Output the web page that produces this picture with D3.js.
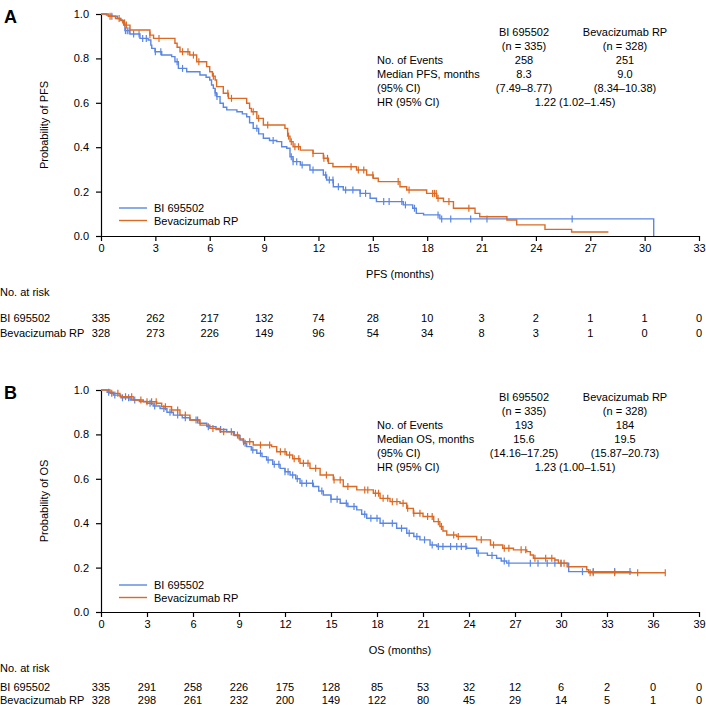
<!DOCTYPE html>
<html><head><meta charset="utf-8">
<script src="https://cdn.jsdelivr.net/npm/d3@7"></script>
<style>
body{margin:0;background:#fff;}
svg{display:block;font-family:"Liberation Sans",Arial,Helvetica,sans-serif;}
</style></head>
<body>
<svg id="c" width="706" height="706"></svg>
<script>
// ---------- DATA ----------
const seriesNames = ["BI 695502", "Bevacizumab RP"];
const colors = ["#5b87e3", "#dc6a24"];

// Panel A (PFS): steps [time, survival]
const pfsBI = [[0,1.0],[0.3,0.995],[0.6,0.99],[0.9,0.98],[1.1,0.97],[1.25,0.95],[1.32,0.925],[1.6,0.91],[2.15,0.89],[2.6,0.883],[2.75,0.86],[2.8,0.845],[2.98,0.83],[3.35,0.815],[3.9,0.808],[4.08,0.785],[4.27,0.755],[4.73,0.74],[5.46,0.725],[5.8,0.715],[6.0,0.703],[6.1,0.68],[6.2,0.665],[6.3,0.645],[6.38,0.628],[6.57,0.598],[6.75,0.58],[6.94,0.568],[7.5,0.56],[7.8,0.55],[8.04,0.537],[8.2,0.51],[8.4,0.485],[8.7,0.46],[8.96,0.44],[9.3,0.43],[9.7,0.425],[9.97,0.402],[10.25,0.395],[10.43,0.357],[10.6,0.335],[11.0,0.32],[11.53,0.297],[12.27,0.275],[12.45,0.252],[12.82,0.222],[13.37,0.207],[14.3,0.192],[14.85,0.17],[15.2,0.155],[16.68,0.14],[17.2,0.125],[17.4,0.102],[17.8,0.095],[18.7,0.077],[30.5,0]];
const pfsBev = [[0,1.0],[0.4,0.99],[0.8,0.98],[1.05,0.973],[1.2,0.96],[1.32,0.95],[1.6,0.928],[2.7,0.905],[2.9,0.89],[4.08,0.868],[4.2,0.85],[4.36,0.83],[4.9,0.815],[5.28,0.785],[5.83,0.763],[6.0,0.74],[6.15,0.72],[6.3,0.703],[6.38,0.673],[6.75,0.643],[7.03,0.62],[8.04,0.598],[8.2,0.575],[8.3,0.56],[8.6,0.53],[8.96,0.5],[10.15,0.485],[10.3,0.45],[10.43,0.425],[10.6,0.402],[11.0,0.387],[11.7,0.372],[12.27,0.35],[12.55,0.327],[12.8,0.312],[14.1,0.297],[14.66,0.275],[15.03,0.26],[15.3,0.245],[16.5,0.222],[16.87,0.207],[17.97,0.192],[18.53,0.17],[18.9,0.155],[19.45,0.125],[20.64,0.102],[20.9,0.087],[22.4,0.072],[22.94,0.05],[24.5,0.03],[25.97,0.018],[28.0,0.018]];
const pfsBICens = [0.6,1.35,1.45,1.55,1.8,2.1,2.3,2.5,3.0,3.3,4.2,4.5,6.3,6.4,8.6,9.5,10.5,10.6,10.8,11.1,11.7,12.4,12.6,12.8,13.1,13.5,13.9,14.3,14.6,15.6,15.9,16.6,16.8,17.3,18.6,18.8,19.3,20.4,21.3,26.0];
const pfsBevCens = [0.5,1.0,1.3,1.4,2.7,3.2,4.5,4.8,5.1,5.4,6.2,7.0,7.2,8.4,8.7,9.2,10.35,10.5,10.7,10.9,11.7,12.3,12.5,13.8,14.2,14.5,15.0,16.4,17.0,18.3,18.4,18.5,18.6,19.2,20.3];
const pfsTicks = [0,3,6,9,12,15,18,21,24,27,30,33];
const pfsRiskBI = [335,262,217,132,74,28,10,3,2,1,1,0];
const pfsRiskBev = [328,273,226,149,96,54,34,8,3,1,0,0];
const pfsStats = [["No. of Events","258","251"],["Median PFS, months","8.3","9.0"],["(95% CI)","(7.49\u20138.77)","(8.34\u201310.38)"]];
const pfsHR = "1.22 (1.02\u20131.45)";

// Panel B (OS)
const osBI = [[0,1],[0.4,0.99],[0.8,0.977],[1.3,0.965],[1.9,0.955],[2.5,0.948],[2.98,0.94],[3.4,0.928],[3.85,0.917],[4.3,0.9],[4.72,0.887],[5.3,0.875],[5.8,0.865],[6.4,0.85],[6.9,0.835],[7.5,0.822],[8.2,0.812],[8.7,0.795],[9.07,0.775],[9.3,0.76],[9.5,0.745],[9.8,0.73],[10.16,0.715],[10.5,0.7],[10.8,0.685],[11.2,0.665],[11.68,0.647],[12.0,0.632],[12.33,0.617],[12.7,0.6],[12.98,0.58],[13.85,0.565],[14.2,0.545],[14.5,0.527],[15.0,0.508],[15.6,0.49],[16.1,0.475],[16.68,0.46],[17.0,0.44],[17.33,0.422],[18.2,0.4],[19.28,0.377],[19.94,0.355],[20.4,0.34],[20.8,0.325],[21.46,0.302],[21.9,0.295],[23.85,0.287],[24.5,0.265],[25.2,0.255],[25.8,0.242],[26.1,0.23],[26.46,0.22],[30.5,0.182],[34.6,0.182]];
const osBev = [[0,1],[0.59,0.985],[1.24,0.97],[2.1,0.955],[2.76,0.947],[3.63,0.94],[3.96,0.925],[4.6,0.91],[5.15,0.887],[5.8,0.865],[6.46,0.842],[7.1,0.827],[7.76,0.812],[8.63,0.797],[9.0,0.78],[9.28,0.767],[9.93,0.752],[11.13,0.745],[11.46,0.722],[12.1,0.707],[12.5,0.69],[12.98,0.67],[13.63,0.647],[14.29,0.617],[15.15,0.595],[15.8,0.565],[16.68,0.55],[17.76,0.535],[18.2,0.512],[18.85,0.497],[19.5,0.49],[19.94,0.467],[20.37,0.445],[21.0,0.43],[21.7,0.407],[22.1,0.385],[22.3,0.365],[22.55,0.347],[23.2,0.34],[24.5,0.325],[25.4,0.302],[26.2,0.287],[26.9,0.28],[27.77,0.272],[28.0,0.257],[28.2,0.242],[29.6,0.234],[29.83,0.22],[30.4,0.204],[31.68,0.19],[31.8,0.177],[36.8,0.177]];
const osBICens = [0.5,0.9,1.4,1.8,2.2,3.2,3.5,4.1,4.5,5.0,5.5,6.2,7.0,7.8,8.5,9.4,9.9,10.4,10.9,11.3,11.6,12.0,12.2,12.5,12.8,13.1,13.4,13.8,14.4,15.0,15.4,16.0,16.5,17.2,17.6,18.0,18.4,19.0,19.6,20.1,20.6,21.1,21.6,22.0,22.3,22.8,23.2,23.5,23.8,24.6,25.5,26.3,26.6,28.0,28.5,29.1,29.6,30.0,31.4,32.1,33.5,34.5];
const osBevCens = [0.7,1.1,1.6,2.0,2.6,3.0,3.3,3.6,4.2,4.6,5.0,5.5,6.3,7.3,8.0,8.9,9.3,9.7,10.4,11.0,11.7,12.0,12.3,12.6,12.9,13.2,13.5,14.0,14.7,15.2,15.6,16.1,17.2,17.4,17.9,18.1,18.4,18.7,19.0,19.3,19.7,20.0,20.4,20.8,21.3,21.6,22.0,22.2,23.0,23.3,24.8,25.6,26.3,26.6,27.4,27.7,28.3,29.0,29.4,30.0,30.2,31.9,32.1,33.5,35.0,36.8];
const osTicks = [0,3,6,9,12,15,18,21,24,27,30,33,36,39];
const osRiskBI = [335,291,258,226,175,128,85,53,32,12,6,2,0,0];
const osRiskBev = [328,298,261,232,200,149,122,80,45,29,14,5,1,0];
const osStats = [["No. of Events","193","184"],["Median OS, months","15.6","19.5"],["(95% CI)","(14.16\u201317.25)","(15.87\u201320.73)"]];
const osHR = "1.23 (1.00\u20131.51)";

const yTicks = [0,0.2,0.4,0.6,0.8,1.0];

// ---------- DRAW ----------
const svg = d3.select("#c");
svg.append("rect").attr("width",706).attr("height",706).attr("fill","#fff");

function survAt(steps, t){
  let s = steps[0][1];
  for (const p of steps){ if (p[0] <= t) s = p[1]; else break; }
  return s;
}

function panel(o){
  const g = svg.append("g");
  const x = d3.scaleLinear().domain([0, o.xmax]).range([101, 699]);
  const y = d3.scaleLinear().domain([0, 1]).range([o.y0, o.y1]);

  g.append("text").attr("x",4).attr("y",o.y1+9).attr("font-size",18).attr("font-weight","bold").text(o.letter);

  const ax = g.append("g").attr("transform",`translate(0,${o.y0})`)
    .call(d3.axisBottom(x).tickValues(o.ticks).tickFormat(d3.format("d")).tickSize(5).tickSizeOuter(0).tickPadding(3));
  const ay = g.append("g").attr("transform","translate(101,0)")
    .call(d3.axisLeft(y).tickValues(yTicks).tickFormat(d3.format(".1f")).tickSize(5).tickSizeOuter(0).tickPadding(7));
  [ax, ay].forEach(a => {
    a.selectAll("path,line").attr("stroke","#000").attr("stroke-width",1.2);
    a.selectAll("text").attr("font-size",11).attr("fill","#000").attr("font-family","Liberation Sans, Arial, sans-serif");
  });

  g.append("text").attr("transform",`translate(48,${(o.y0+o.y1)/2}) rotate(-90)`)
    .attr("text-anchor","middle").attr("font-size",11).text(o.ytitle);
  g.append("text").attr("x",400).attr("y",o.xtitleY).attr("text-anchor","middle").attr("font-size",11).text(o.xtitle);

  const line = d3.line().x(d=>x(d[0])).y(d=>y(d[1])).curve(d3.curveStepAfter);
  const curves = [[o.bi,o.biC],[o.bev,o.bevC]];
  curves.forEach((c,i)=>{
    g.append("path").datum(c[0]).attr("d",line).attr("fill","none")
      .attr("stroke",colors[i]).attr("stroke-width",1.4);
    g.append("g").selectAll("line").data(c[1]).join("line")
      .attr("x1",d=>x(d)).attr("x2",d=>x(d))
      .attr("y1",d=>y(survAt(c[0],d))-3.5).attr("y2",d=>y(survAt(c[0],d))+3.5)
      .attr("stroke",colors[i]).attr("stroke-width",1.2);
  });

  seriesNames.forEach((n,i)=>{
    const ly = o.legY + i*12.5;
    g.append("line").attr("x1",119).attr("x2",147).attr("y1",ly).attr("y2",ly)
      .attr("stroke",colors[i]).attr("stroke-width",1.4);
    g.append("text").attr("x",154).attr("y",ly+4).attr("font-size",11).text(n);
  });

  const st = o.statY;
  const tt = g.append("g").attr("font-size",11);
  tt.append("text").attr("x",524).attr("y",st).attr("text-anchor","middle").text(seriesNames[0]);
  tt.append("text").attr("x",625).attr("y",st).attr("text-anchor","middle").text(seriesNames[1]);
  tt.append("text").attr("x",524).attr("y",st+14).attr("text-anchor","middle").text("(n = 335)");
  tt.append("text").attr("x",625).attr("y",st+14).attr("text-anchor","middle").text("(n = 328)");
  o.stats.forEach((r,i)=>{
    const yy = st + 28 + i*14;
    tt.append("text").attr("x",377).attr("y",yy).text(r[0]);
    tt.append("text").attr("x",524).attr("y",yy).attr("text-anchor","middle").text(r[1]);
    tt.append("text").attr("x",625).attr("y",yy).attr("text-anchor","middle").text(r[2]);
  });
  tt.append("text").attr("x",377).attr("y",st+70).text("HR (95% CI)");
  tt.append("text").attr("x",575).attr("y",st+70).attr("text-anchor","middle").text(o.hr);

  const rt = g.append("g").attr("font-size",11);
  rt.append("text").attr("x",0).attr("y",o.riskY).text("No. at risk");
  [[o.rBI,0],[o.rBev,1]].forEach(([vals,i])=>{
    const yy = o.rowY + i*o.rowGap;
    rt.append("text").attr("x",0).attr("y",yy).text(seriesNames[i]);
    rt.selectAll(null).data(vals).join("text")
      .attr("x",(d,j)=>x(o.ticks[j])).attr("y",yy).attr("text-anchor","middle").text(d=>d);
  });
}

panel({letter:"A", xmax:33, y0:236, y1:14, ticks:pfsTicks, ytitle:"Probability of PFS", xtitle:"PFS (months)",
  xtitleY:278, bi:pfsBI, bev:pfsBev, biC:pfsBICens, bevC:pfsBevCens, legY:208, statY:36,
  stats:pfsStats, hr:pfsHR, riskY:296, rowY:322, rowGap:14.5, rBI:pfsRiskBI, rBev:pfsRiskBev});
panel({letter:"B", xmax:39, y0:612, y1:390, ticks:osTicks, ytitle:"Probability of OS", xtitle:"OS (months)",
  xtitleY:654, bi:osBI, bev:osBev, biC:osBICens, bevC:osBevCens, legY:585, statY:401,
  stats:osStats, hr:osHR, riskY:672, rowY:691, rowGap:12.5, rBI:osRiskBI, rBev:osRiskBev});
</script>
</body></html>
